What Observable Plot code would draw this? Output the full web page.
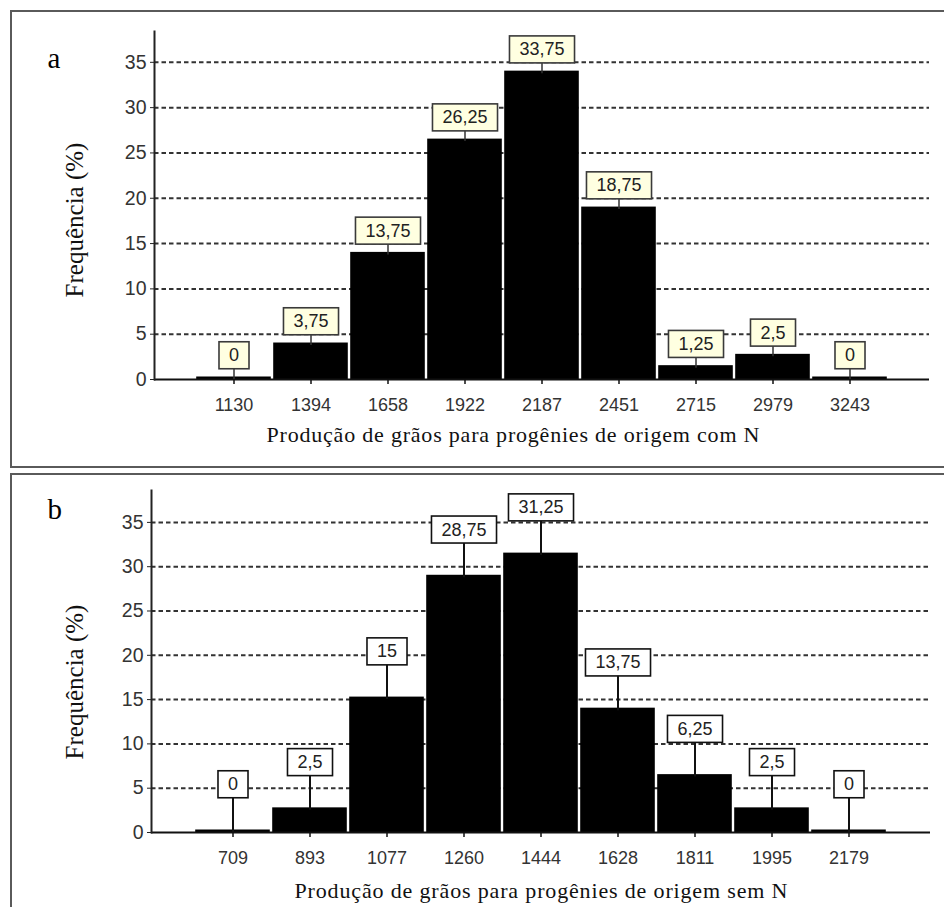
<!DOCTYPE html>
<html><head><meta charset="utf-8">
<script src="https://cdn.jsdelivr.net/npm/d3@7"></script>
<script src="https://cdn.jsdelivr.net/npm/@observablehq/plot@0.6"></script>
<style>
body{margin:0;width:944px;height:907px;overflow:hidden;position:relative;background:#fff;}
.frame{position:absolute;left:10px;width:960px;border:2px solid #5a5a5a;box-sizing:border-box;}
.panel{position:absolute;left:0;}
.panel svg{overflow:visible;}
</style></head><body>
<div class="frame" style="top:10px;height:458px"></div>
<div class="frame" style="top:473px;height:500px"></div>
<div id="pa" class="panel" style="top:0px"></div>
<div id="pb" class="panel" style="top:470px"></div>
<script>
// Panel a: progênies de origem com N
const binsA = ["1130","1394","1658","1922","2187","2451","2715","2979","3243"];
const freqA = [0, 3.75, 13.75, 26.25, 33.75, 18.75, 1.25, 2.5, 0];
// Panel b: progênies de origem sem N
const binsB = ["709","893","1077","1260","1444","1628","1811","1995","2179"];
const freqB = [0, 2.5, 15, 28.75, 31.25, 13.75, 6.25, 2.5, 0];
const yTicks = [0, 5, 10, 15, 20, 25, 30, 35];
const yTitle = "Frequência (%)";
const xTitleA = "Produção de grãos para progênies de origem com N";
const xTitleB = "Produção de grãos para progênies de origem sem N";

const SANS = "'Liberation Sans', Arial, sans-serif";
const SERIF = "'Liberation Serif', 'Times New Roman', serif";
const fmt = v => String(v).replace(".", ",");

function panel(cfg) {
  const data = cfg.bins.map((b, i) => ({bin: b, v: cfg.freq[i], label: fmt(cfg.freq[i])}));
  const svg = Plot.plot({
    width: 944,
    height: cfg.height,
    marginTop: cfg.mt, marginBottom: cfg.mb, marginLeft: cfg.ml, marginRight: cfg.mr,
    style: {fontFamily: SANS, fontSize: "18px", color: "#222", background: "transparent"},
    x: {type: "band", domain: cfg.bins, paddingInner: 0, paddingOuter: 0.5, align: 0.5, axis: null},
    y: {domain: [0, cfg.yMax], axis: null},
    marks: [
      Plot.ruleY(yTicks.filter(t => t > 0), {stroke: "#333", strokeWidth: 2, strokeDasharray: "4.5,3"}),
      Plot.barY(data, {x: "bin", y1: 0, y2: "v", fill: "#000", insetLeft: 1.2, insetRight: 1.2, insetTop: -2.5}),
      Plot.ruleY([0], {stroke: "#111", strokeWidth: 2}),
      Plot.frame({anchor: "left", stroke: "#222", strokeWidth: 2}),
      Plot.axisY({ticks: yTicks, tickSize: 4, tickPadding: 4, fontSize: 19.5, label: null, stroke: "#222", fill: "#333"}),
      Plot.axisX({tickSize: 5, tickPadding: 14, fontSize: 18, label: null, stroke: "#111", strokeWidth: 1.5, fill: "#333"}),
      Plot.ruleX(data, {x: "bin", y1: "v", y2: "v", insetTop: -cfg.lift, stroke: cfg.stemColor, strokeWidth: cfg.stemWidth}),
      Plot.text(data, {x: "bin", y: "v", text: "label", dy: -cfg.lift, lineAnchor: "middle", fontSize: 18, fill: "#222"}),
      Plot.text([cfg.letter], {frameAnchor: "top-left", dx: 47 - cfg.ml, dy: cfg.letterDy, lineAnchor: "bottom", textAnchor: "start", fontFamily: SERIF, fontSize: 29, fill: "#000"}),
      Plot.text([cfg.xTitle], {frameAnchor: "bottom", dx: cfg.xdx, dy: cfg.xdy, lineAnchor: "bottom", textAnchor: "middle", fontFamily: SERIF, fontSize: 22, fill: "#111"}),
      Plot.text([yTitle], {frameAnchor: "left", rotate: -90, dx: 74 - cfg.ml, dy: cfg.ydy, lineAnchor: "middle", textAnchor: "middle", fontFamily: SERIF, fontSize: 25, fill: "#111"})
    ]
  });
  document.getElementById(cfg.el).appendChild(svg);
  const textGroups = svg.querySelectorAll('g[aria-label="text"]');
  const [labelG, letterG, xTitleG, yTitleG] = textGroups;
  labelG.querySelectorAll("text").forEach(t => {
    const b = t.getBBox();
    const w = b.width + 20, h = 27, cx = b.x + b.width / 2, cy = b.y + b.height / 2;
    const r = document.createElementNS("http://www.w3.org/2000/svg", "rect");
    r.setAttribute("x", cx - w / 2);
    r.setAttribute("y", cy - h / 2);
    r.setAttribute("width", w);
    r.setAttribute("height", h);
    r.setAttribute("fill", cfg.boxFill);
    r.setAttribute("stroke", cfg.boxStroke);
    r.setAttribute("stroke-width", 1.6);
    if (t.getAttribute("transform")) r.setAttribute("transform", t.getAttribute("transform"));
    t.parentNode.insertBefore(r, t);
  });
  xTitleG.querySelectorAll("text").forEach(t => {
    t.setAttribute("textLength", 493);
    t.setAttribute("lengthAdjust", "spacing");
  });
}

panel({el: "pa", bins: binsA, freq: freqA, letter: "a", xTitle: xTitleA,
  height: 470, mt: 31, mb: 91, ml: 154, mr: 15, yMax: 38.4,
  lift: 24, boxFill: "#ffffe1", boxStroke: "#3a3a3a", stemColor: "#333", stemWidth: 1.5,
  letterDy: 36, xdx: -29, xdy: 62.7, ydy: 14.5});
panel({el: "pb", bins: binsB, freq: freqB, letter: "b", xTitle: xTitleB,
  height: 437, mt: 20, mb: 75, ml: 151, mr: 14, yMax: 38.6,
  lift: 48, boxFill: "#ffffff", boxStroke: "#111", stemColor: "#111", stemWidth: 2,
  letterDy: 28, xdx: 0, xdy: 65, ydy: 20.5});
</script>
</body></html>
